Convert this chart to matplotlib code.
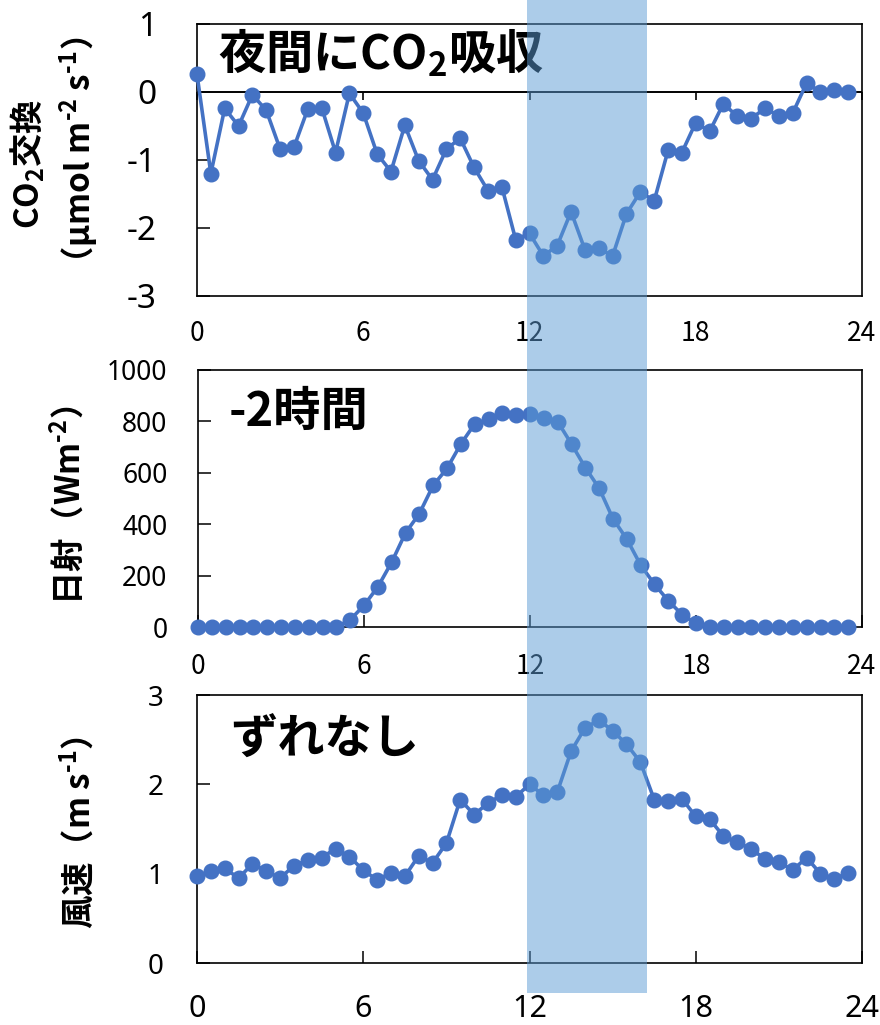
import matplotlib
matplotlib.use('Agg')
import matplotlib.pyplot as plt
import matplotlib.transforms as mtransforms
from matplotlib.patches import Rectangle
import numpy as np

plt.rcParams['font.family'] = ['Noto Sans CJK JP', 'DejaVu Sans']
plt.rcParams['mathtext.fontset'] = 'custom'
plt.rcParams['mathtext.rm'] = 'Noto Sans CJK JP:bold'
plt.rcParams['mathtext.it'] = 'Noto Sans CJK JP:bold'
plt.rcParams['mathtext.bf'] = 'Noto Sans CJK JP:bold'
plt.rcParams['axes.unicode_minus'] = False

# half-hourly time of day (h)
hours = np.arange(48) * 0.5

# CO2 exchange (umol m-2 s-1)
co2 = [0.26, -1.20, -0.24, -0.50, -0.04, -0.27, -0.84, -0.81, -0.25, -0.23,
       -0.89, -0.02, -0.31, -0.91, -1.17, -0.49, -1.01, -1.29, -0.84, -0.68,
       -1.11, -1.45, -1.39, -2.17, -2.08, -2.41, -2.26, -1.76, -2.32, -2.30,
       -2.41, -1.79, -1.47, -1.60, -0.86, -0.89, -0.45, -0.58, -0.17, -0.36,
       -0.39, -0.24, -0.35, -0.31, 0.13, 0.00, 0.03, 0.00]

# solar radiation (W m-2)
radiation = [0, 0, 0, 0, 0, 0, 0, 0, 0, 0, 0,
             28, 84, 156, 252, 366, 441, 551, 617, 712, 790, 808, 831, 825,
             828, 815, 799, 712, 620, 540, 421, 342, 241, 166, 102, 48, 14,
             0, 0, 0, 0, 0, 0, 0, 0, 0, 0, 0]

# wind speed (m s-1)
wind = [0.97, 1.03, 1.06, 0.95, 1.11, 1.03, 0.95, 1.09, 1.15, 1.18,
        1.28, 1.19, 1.04, 0.93, 1.01, 0.97, 1.20, 1.12, 1.34, 1.83,
        1.66, 1.79, 1.88, 1.86, 2.00, 1.88, 1.91, 2.37, 2.63, 2.72,
        2.60, 2.45, 2.25, 1.83, 1.81, 1.84, 1.64, 1.61, 1.42, 1.35,
        1.28, 1.16, 1.13, 1.04, 1.18, 1.00, 0.94, 1.01]

xticks = [0, 6, 12, 18, 24]
window = (11.9, 16.25)  # highlighted hours

W, H = 880, 1025
fig = plt.figure(figsize=(W / 100, H / 100), dpi=100)


def px_axes(left, top, right, bottom):
    return fig.add_axes([left / W, 1 - bottom / H, (right - left) / W, (bottom - top) / H])


line_kw = dict(color='#4472C4', lw=2.6, marker='o', ms=10.5, clip_on=False, zorder=3)
narrow = ['Liberation Sans Narrow', 'Noto Sans CJK JP']

# --- CO2 exchange ---
ax1 = px_axes(197, 24, 862, 296)
# x axis crossing at zero, ticks pointing down
ax1.axhline(0, color='black', lw=1.4, zorder=2.5)
ax1.plot(xticks, np.zeros(len(xticks)), ls='none', marker=3, ms=6, mew=1.2,
         color='black', clip_on=False, zorder=2.5)
ax1.plot(hours, co2, **line_kw)
ax1.set_xlim(0, 24)
ax1.set_ylim(-3, 1)
ax1.set_yticks([-3, -2, -1, 0, 1])
ax1.set_xticks(xticks)
ax1.tick_params(axis='y', direction='in', length=9, width=1.1, labelsize=24, pad=29,
                labelfontfamily='Noto Sans')
ax1.tick_params(axis='x', length=0, labelsize=19, pad=17, labelfontfamily=narrow)
ax1.text(0.76, 0.57, '夜間にCO$_2$吸収', fontsize=34, fontweight='bold',
         ha='left', va='center')

# --- solar radiation ---
ax2 = px_axes(198, 370, 862, 627)
ax2.plot(hours, radiation, **line_kw)
ax2.set_xlim(0, 24)
ax2.set_ylim(0, 1000)
ax2.set_yticks(range(0, 1001, 200))
ax2.set_xticks(xticks)
ax2.tick_params(axis='y', direction='in', length=9, width=1.1, labelsize=19, pad=22,
                labelfontfamily='Noto Sans')
ax2.tick_params(axis='x', direction='in', length=9, width=1.1, labelsize=19, pad=19,
                labelfontfamily=narrow)
ax2.text(1.1, 836, '-2時間', fontsize=34, fontweight='bold', ha='left', va='center')

# --- wind speed ---
ax3 = px_axes(197, 695, 862, 963)
ax3.plot(hours, wind, **line_kw)
ax3.set_xlim(0, 24)
ax3.set_ylim(0, 3)
ax3.set_yticks([0, 1, 2, 3])
ax3.set_xticks(xticks)
ax3.tick_params(axis='y', direction='in', length=9, width=1.1, labelsize=20, pad=24,
                labelfontfamily='Noto Sans')
ax3.tick_params(axis='x', direction='in', length=9, width=1.1, labelsize=22, pad=22,
                labelfontfamily='Noto Sans')
ax3.text(1.2, 2.5, 'ずれなし', fontsize=34, fontweight='bold', ha='left', va='center')

for ax in (ax1, ax2, ax3):
    for s in ax.spines.values():
        s.set_linewidth(1.2)

# axis titles
lab_kw = dict(rotation=90, ha='center', va='center', fontsize=24, fontweight='bold')
fig.text(28 / W, 1 - 164 / H, 'CO$_2$交換', **lab_kw)
fig.text(79 / W, 1 - 158 / H, r'（μmol m$^{\text{-}2}$ s$^{\text{-}1}$）', **lab_kw)
fig.text(68 / W, 1 - 505 / H, r'日射（Wm$^{\text{-}2}$）', **lab_kw)
fig.text(78 / W, 1 - 832 / H, r'風速（m s$^{\text{-}1}$）', **lab_kw)

# shaded window across all three panels
trans = mtransforms.blended_transform_factory(ax3.transData, fig.transFigure)
band_bottom = 1 - 993 / H
fig.add_artist(Rectangle((window[0], band_bottom), window[1] - window[0], 1 - band_bottom,
                         transform=trans, facecolor='#5B9BD5', alpha=0.5, lw=0, zorder=5))

fig.savefig('out.png', dpi=100)
